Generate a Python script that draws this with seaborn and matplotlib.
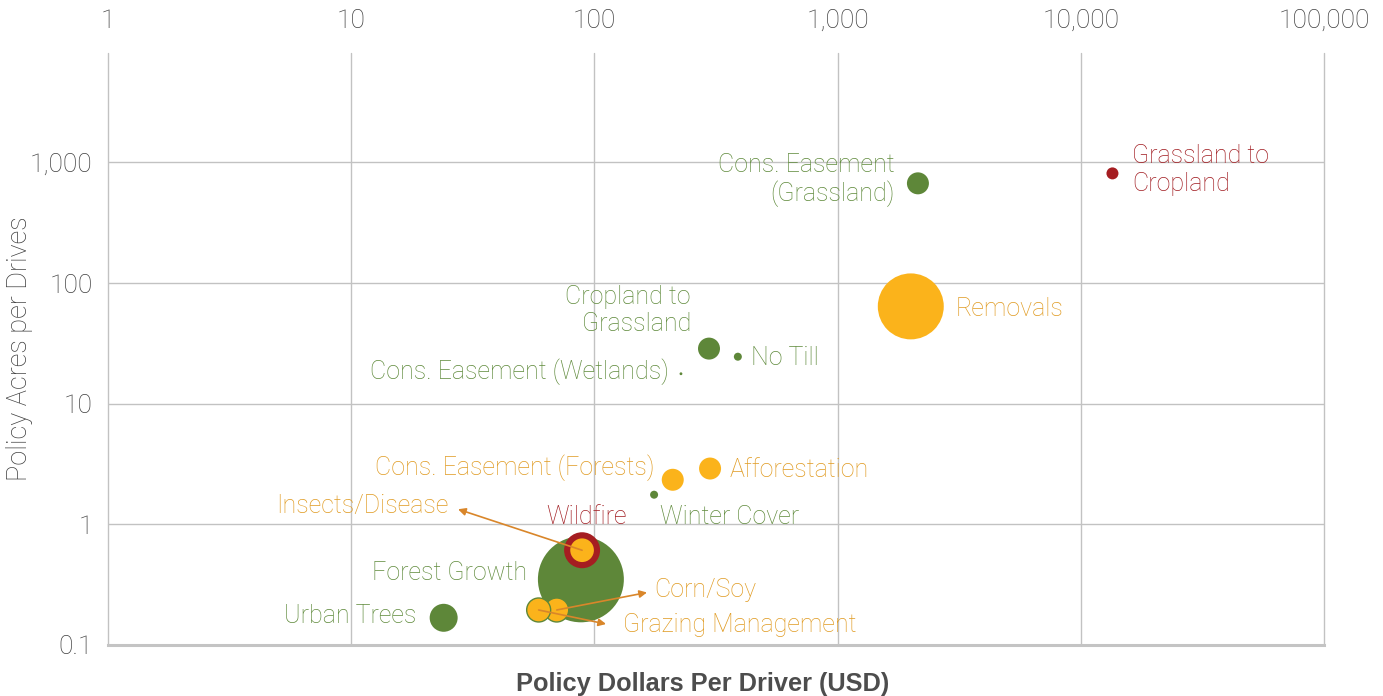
import matplotlib
matplotlib.use("Agg")
import matplotlib.pyplot as plt
import seaborn as sns
import pandas as pd

# data (log-log bubble chart)
policies = [
    "Forest Growth", "Wildfire", "Insects/Disease", "Corn/Soy", "Grazing Management",
    "Urban Trees", "Cons. Easement (Grassland)", "Grassland to Cropland", "Removals",
    "Cropland to Grassland", "No Till", "Cons. Easement (Wetlands)",
    "Cons. Easement (Forests)", "Afforestation", "Winter Cover",
]
labels = [
    "Forest Growth", "Wildfire", "Insects/Disease", "Corn/Soy", "Grazing Management",
    "Urban Trees", "Cons. Easement\n(Grassland)", "Grassland to\nCropland", "Removals",
    "Cropland to\nGrassland", "No Till", "Cons. Easement (Wetlands)",
    "Cons. Easement (Forests)", "Afforestation", "Winter Cover",
]
dollars = [88, 89, 89, 70, 59, 24, 2140, 13500, 2000, 296, 389, 227, 210, 299, 176]
acres = [0.35, 0.61, 0.61, 0.195, 0.195, 0.168, 670, 810, 64, 28.6, 24.5, 17.7, 2.34, 2.9, 1.76]
bubble = [1849, 324, 140, 144, 144, 196, 121, 36, 1089, 121, 16, 2, 121, 121, 16]
group = ["green", "red", "orange", "orange", "orange", "green", "green", "red", "orange",
         "green", "green", "green", "orange", "orange", "green"]

x_ticks = [1, 10, 100, 1000, 10000, 100000]
x_ticklabels = ["1", "10", "100", "1,000", "10,000", "100,000"]
y_ticks = [0.1, 1, 10, 100, 1000]
y_ticklabels = ["0.1", "1", "10", "100", "1,000"]

df = pd.DataFrame({"policy": policies, "label": labels, "dollars": dollars,
                   "acres": acres, "bubble": bubble, "group": group})

# colours
fill = {"green": "#5e8739", "orange": "#fbb31b", "red": "#a51d21"}
text_col = {"green": "#5f8a3b", "orange": "#e09b22", "red": "#a11c21"}
arrow_col = "#d9862a"
grey = "#3f3f3f"

# label placement: offset in points from bubble centre, horizontal alignment
label_pos = {
    "Forest Growth": (-38.5, 4.3, "right"),
    "Wildfire": (3, 23.8, "center"),
    "Insects/Disease": (-96, 31.7, "right"),
    "Corn/Soy": (70, 14.4, "left"),
    "Grazing Management": (61, -10.8, "left"),
    "Urban Trees": (-20, 1.4, "right"),
    "Cons. Easement (Grassland)": (-16.5, 2.5, "right"),
    "Grassland to Cropland": (14.4, 2.5, "left"),
    "Removals": (32.4, -2.2, "left"),
    "Cropland to Grassland": (-13, 27.4, "right"),
    "No Till": (9.4, -0.7, "left"),
    "Cons. Easement (Wetlands)": (-8.6, 1.4, "right"),
    "Cons. Easement (Forests)": (-13, 8.6, "right"),
    "Afforestation": (14.4, -0.7, "left"),
    "Winter Cover": (4.3, -15.8, "left"),
}
# arrows: head offset in points from bubble centre
arrows = {
    "Insects/Disease": (-89.3, 29.5),
    "Corn/Soy": (65, 12.6),
    "Grazing Management": (48.5, -10.1),
}

sns.set_theme(style="white")
plt.rcParams["font.family"] = ["Roboto", "DejaVu Sans"]

fig = plt.figure(figsize=(13.83, 6.96), dpi=100)
ax = fig.add_axes([0.0781, 0.0733, 0.8792, 0.8500])

edges = ["#5e8739" if p in ("Corn/Soy", "Grazing Management") else "none" for p in policies]
lws = [1.0 if p in ("Corn/Soy", "Grazing Management") else 0 for p in policies]

sns.scatterplot(data=df, x="dollars", y="acres", hue="group", palette=fill,
                size="bubble", sizes=(0, 3830), size_norm=(0, 1849),
                edgecolor=edges, linewidth=lws, alpha=1, legend=False,
                ax=ax, zorder=3)

ax.set_xscale("log")
ax.set_yscale("log")
ax.set_xlim(1, 100000)
ax.set_ylim(0.1, 8000)
ax.minorticks_off()
ax.xaxis.tick_top()
ax.set_xticks(x_ticks)
ax.set_xticklabels(x_ticklabels)
ax.set_yticks(y_ticks)
ax.set_yticklabels(y_ticklabels)
ax.tick_params(axis="x", length=0, pad=15, labelsize=19, labelcolor=grey)
ax.tick_params(axis="y", length=0, pad=11, labelsize=19, labelcolor=grey)
for t in ax.get_xticklabels() + ax.get_yticklabels():
    t.set_fontweight("light")

ax.grid(True, color="#c2c2c2", linewidth=1)
ax.set_axisbelow(True)
# keep the edge gridlines (x=1, x=100,000) fully visible
for gl in ax.get_xgridlines():
    gl.set_clip_on(False)
for s in ["top", "left", "right"]:
    ax.spines[s].set_visible(False)
ax.spines["bottom"].set_color("#c4c4c4")
ax.spines["bottom"].set_linewidth(2.2)

ax.xaxis.set_label_position("bottom")
ax.set_xlabel("Policy Dollars Per Driver (USD)", fontsize=18.3, fontweight="bold",
              color="#4d4d4d", family=["Liberation Sans", "DejaVu Sans"])
ax.xaxis.set_label_coords(0.489, -0.045)
ax.set_ylabel("Policy Acres per Drives", fontsize=19.5, fontweight="light", color=grey)
ax.yaxis.set_label_coords(-0.062, 0.5)

for _, row in df.iterrows():
    dx, dy, ha = label_pos[row["policy"]]
    ax.annotate(row["label"], xy=(row["dollars"], row["acres"]), xytext=(dx, dy),
                textcoords="offset points", ha=ha, va="center", multialignment=ha,
                fontsize=18, fontweight="light", color=text_col[row["group"]],
                linespacing=1.2, zorder=4)
    if row["policy"] in arrows:
        ax.annotate("", xy=(row["dollars"], row["acres"]), xytext=arrows[row["policy"]],
                    textcoords="offset points",
                    arrowprops=dict(arrowstyle="<|-", color=arrow_col, lw=1.2,
                                    shrinkA=0, shrinkB=0, mutation_scale=11),
                    zorder=5)

fig.savefig("out.png", dpi=100)
